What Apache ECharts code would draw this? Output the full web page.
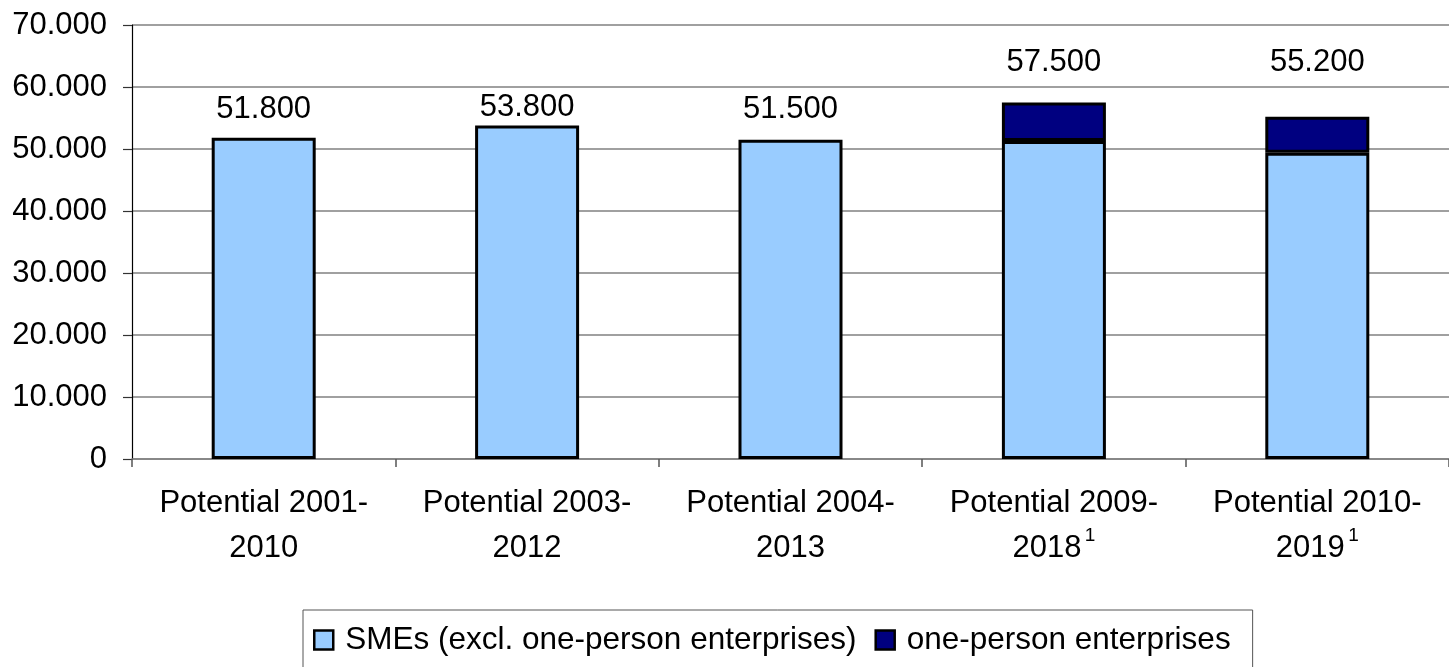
<!DOCTYPE html>
<html>
<head>
<meta charset="utf-8">
<script src="https://cdn.jsdelivr.net/npm/echarts@6/dist/echarts.min.js"></script>
<style>html,body{margin:0;padding:0;background:#fff;}#c{width:1449px;height:667px;}</style>
</head>
<body>
<div id="c"></div>
<script>
const categories = ['Potential 2001-2010', 'Potential 2003-2012', 'Potential 2004-2013', 'Potential 2009-2018', 'Potential 2010-2019'];
const footnotes = ['', '', '', '1', '1'];
const smes = [51800, 53800, 51500, 51300, 49400];
const onePerson = [null, null, null, 6200, 5800];
const seriesNames = ['SMEs (excl. one-person enterprises)', 'one-person enterprises'];
const yTicks = { min: 0, max: 70000, interval: 10000 };

// style: gap between bar top and total label (px)
const labelGaps = [12, 2, 14, 24, 38];

const FONT = "'Liberation Sans', Arial, sans-serif";
function fmt(v) {
  return String(v).replace(/\B(?=(\d{3})+(?!\d))/g, '.');
}
const totals = smes.map((v, i) => v + (onePerson[i] || 0));

const chart = echarts.init(document.getElementById('c'));
chart.setOption({
  animation: false,
  textStyle: { fontFamily: FONT },
  grid: { left: 132, right: -15.5, top: 25, bottom: 208 },
  legend: {
    data: seriesNames.map(n => ({ name: n, icon: 'rect' })),
    left: 303, top: 610,
    orient: 'horizontal',
    padding: [14, 22, 30, 10],
    itemGap: 18,
    itemWidth: 19, itemHeight: 19,
    borderColor: '#555', borderWidth: 1,
    backgroundColor: '#fff',
    itemStyle: { borderColor: '#000', borderWidth: 2.5 },
    textStyle: { fontSize: 31.5, color: '#000', fontFamily: FONT, padding: [0, 0, 0, 7], lineHeight: 32 }
  },
  xAxis: {
    type: 'category',
    data: categories,
    axisLine: { lineStyle: { color: '#808080', width: 1.5 } },
    axisTick: { show: true, length: 8, lineStyle: { color: '#555', width: 1.5 } },
    axisLabel: {
      margin: 22,
      interval: 0,
      formatter: function (v, i) {
        const idx = v.indexOf('-');
        const a = v.slice(0, idx + 1);
        const b = v.slice(idx + 1);
        const fn = footnotes[i] ? ' {s|' + footnotes[i] + '}' : '';
        return '{a|' + a + '}\n{a|' + b + '}' + fn;
      },
      rich: {
        a: { fontSize: 31, lineHeight: 45, color: '#000', fontFamily: FONT },
        s: { fontSize: 19, lineHeight: 20, color: '#000', verticalAlign: 'top', fontFamily: FONT }
      }
    }
  },
  yAxis: {
    type: 'value',
    min: yTicks.min, max: yTicks.max, interval: yTicks.interval,
    axisLine: { show: true, lineStyle: { color: '#000', width: 1.2 } },
    axisTick: { show: true, length: 9, lineStyle: { color: '#333', width: 1.2 } },
    splitLine: { show: true, lineStyle: { color: '#808080', width: 1.5 } },
    axisLabel: { fontSize: 31, color: '#000', margin: 25, fontFamily: FONT, formatter: v => fmt(v) }
  },
  series: [
    {
      name: seriesNames[0], type: 'bar', stack: 'total', data: smes, barWidth: 104,
      itemStyle: { color: '#99CCFF', borderColor: '#000', borderWidth: 3 }
    },
    {
      name: seriesNames[1], type: 'bar', stack: 'total', data: onePerson, barWidth: 104,
      itemStyle: { color: '#000080', borderColor: '#000', borderWidth: 3 }
    },
    {
      name: 'total', type: 'line',
      data: totals.map((t, i) => ({ value: t, label: { distance: labelGaps[i] } })),
      symbol: 'circle', symbolSize: 2, showSymbol: true,
      itemStyle: { color: 'rgba(0,0,0,0)', borderWidth: 0 },
      lineStyle: { width: 0, color: 'rgba(0,0,0,0)' }, silent: true, z: 5,
      label: { show: true, position: 'top', fontSize: 31, lineHeight: 30, color: '#000', opacity: 1, fontFamily: FONT, formatter: p => fmt(p.value) }
    }
  ]
});
</script>
</body>
</html>
